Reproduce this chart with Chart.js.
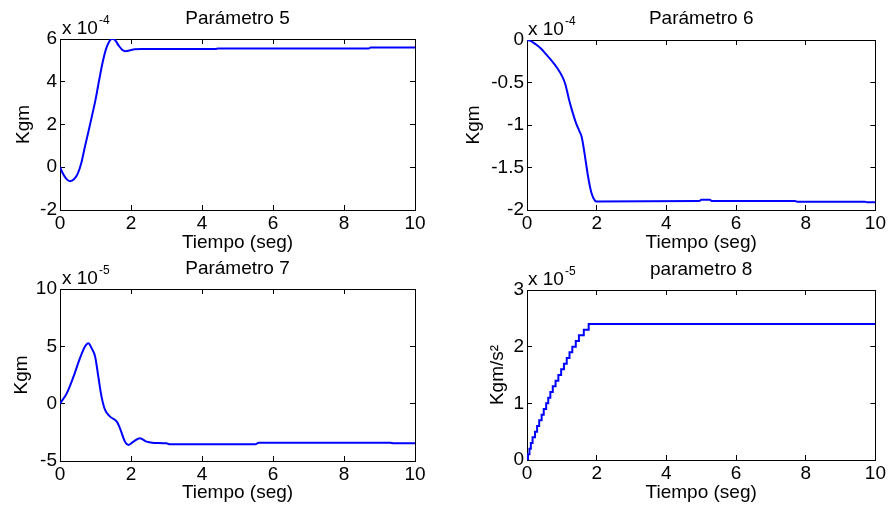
<!DOCTYPE html>
<html>
<head>
<meta charset="utf-8">
<script src="https://cdn.jsdelivr.net/npm/chart.js@4.4.1/dist/chart.umd.min.js"></script>
<style>
  body { margin: 0; background: #fff; }
  #wrap { position: relative; width: 893px; height: 510px; background: #fff; }
  canvas { position: absolute; }
</style>
</head>
<body>
<div id="wrap">
  <canvas id="p5" width="446" height="255" style="left:0;top:0"></canvas>
  <canvas id="p6" width="447" height="255" style="left:446px;top:0"></canvas>
  <canvas id="p7" width="446" height="255" style="left:0;top:255px"></canvas>
  <canvas id="p8" width="447" height="255" style="left:446px;top:255px"></canvas>
</div>
<script>
// Eje de tiempo (seg), comun a los 4 graficos
const xTicks = [0, 2, 4, 6, 8, 10];

// Parametro 5 (x 10^-4)
const t5 = [0, 0.1, 0.2, 0.28, 0.4, 0.5, 0.6, 0.7, 0.8, 0.9, 1.0, 1.1, 1.2, 1.3, 1.4, 1.46, 1.55, 1.65, 1.75, 1.85, 1.95, 2.1, 2.3, 4.4, 4.45, 8.7, 8.75, 10];
const p5 = [0, -0.35, -0.58, -0.65, -0.55, -0.3, 0.2, 0.95, 1.66, 2.4, 3.15, 4.05, 4.9, 5.55, 5.92, 6.02, 5.95, 5.7, 5.5, 5.43, 5.46, 5.52, 5.53, 5.53, 5.56, 5.56, 5.6, 5.6];
const yTicks5 = [-2, 0, 2, 4, 6];

// Parametro 6 (x 10^-4)
const t6 = [0, 0.1, 0.25, 0.4, 0.55, 0.7, 0.85, 1.0, 1.1, 1.2, 1.3, 1.4, 1.5, 1.57, 1.65, 1.75, 1.85, 1.95, 2.0, 4.95, 5.0, 5.25, 5.3, 7.7, 7.75, 9.7, 9.75, 10];
const p6 = [0, -0.01, -0.05, -0.1, -0.17, -0.24, -0.32, -0.42, -0.52, -0.69, -0.84, -0.97, -1.07, -1.14, -1.33, -1.6, -1.8, -1.89, -1.9, -1.895, -1.88, -1.88, -1.895, -1.895, -1.902, -1.902, -1.91, -1.91];
const yTicks6 = [-2, -1.5, -1, -0.5, 0];

// Parametro 7 (x 10^-5)
const t7 = [0, 0.19, 0.38, 0.56, 0.7, 0.8, 0.89, 0.99, 1.08, 1.17, 1.27, 1.41, 1.6, 1.69, 1.83, 1.93, 2.07, 2.25, 2.44, 2.6, 3.0, 3.1, 5.5, 5.6, 9.3, 9.4, 10];
const p7 = [0, 0.9, 2.35, 3.95, 4.97, 5.26, 4.83, 4.1, 2.35, 0.61, -0.55, -1.13, -1.57, -2.15, -3.31, -3.6, -3.31, -3.02, -3.31, -3.4, -3.46, -3.55, -3.55, -3.4, -3.4, -3.46, -3.46];
const yTicks7 = [-5, 0, 5, 10];

// parametro 8 (x 10^-5), escalonado
const t8 = [0, 0.03, 0.07, 0.11, 0.16, 0.23, 0.29, 0.35, 0.42, 0.48, 0.55, 0.61, 0.67, 0.74, 0.82, 0.9, 0.98, 1.06, 1.14, 1.22, 1.3, 1.4, 1.49, 1.63, 1.77, 10];
const p8 = [0, 0.1, 0.2, 0.3, 0.4, 0.5, 0.6, 0.7, 0.8, 0.9, 1.0, 1.1, 1.2, 1.3, 1.4, 1.5, 1.6, 1.7, 1.8, 1.9, 2.0, 2.1, 2.2, 2.3, 2.4, 2.4];
const yTicks8 = [0, 1, 2, 3];

const FONT = '"Liberation Sans", Arial, Helvetica, sans-serif';
Chart.defaults.font.family = FONT;
Chart.defaults.font.size = 19;
Chart.defaults.color = '#000';

// etiqueta "x 10^n" arriba a la izquierda, como en MATLAB
const exponentLabel = {
  id: 'exponentLabel',
  afterDraw(chart, args, opts) {
    const { ctx, chartArea } = chart;
    ctx.save();
    ctx.fillStyle = '#000';
    ctx.textBaseline = 'alphabetic';
    ctx.textAlign = 'left';
    ctx.font = '19px ' + FONT;
    const x0 = chartArea.left + opts.dx;
    ctx.fillText('x 10', x0, chartArea.top - 5);
    const w = ctx.measureText('x 10').width;
    ctx.font = '12px ' + FONT;
    ctx.fillText(opts.power, x0 + w + 1, chartArea.top - 15);
    ctx.restore();
  }
};

function fixedTicks(values) {
  return scale => { scale.ticks = values.map(v => ({ value: v })); };
}

function makePlot(id, cfg) {
  const canvas = document.getElementById(id);
  const H = canvas.height, W = canvas.width;
  const grid = { drawOnChartArea: false, tickLength: -5, color: '#000', lineWidth: 1 };
  const border = { display: true, color: '#000', width: 1 };
  const yMin = cfg.yTicks[0], yMax = cfg.yTicks[cfg.yTicks.length - 1];

  new Chart(canvas, {
    type: 'line',
    data: {
      datasets: [{
        data: cfg.t.map((x, i) => ({ x: x, y: cfg.v[i] })),
        borderColor: '#0000ff',
        borderWidth: 2,
        pointRadius: 0,
        fill: false,
        stepped: cfg.stepped || false,
        cubicInterpolationMode: cfg.stepped ? 'default' : 'monotone',
      }],
    },
    options: {
      responsive: false,
      animation: false,
      events: [],
      layout: { padding: { left: 0, top: 0, bottom: 0, right: W - cfg.box.right } },
      plugins: {
        legend: { display: false },
        tooltip: { enabled: false },
        title: {
          display: true,
          text: cfg.title,
          fullSize: false,
          font: { size: 19, weight: 'normal' },
          color: '#000',
          padding: { top: cfg.titlePad, bottom: cfg.box.top - cfg.titlePad - 22.8 },
        },
        exponentLabel: { power: cfg.power, dx: cfg.expDx },
      },
      scales: {
        x: {
          type: 'linear', position: 'bottom', min: 0, max: 10,
          afterBuildTicks: fixedTicks(xTicks),
          afterFit: s => { s.height = H - cfg.box.bottom; },
          ticks: { padding: 7, maxRotation: 0, autoSkip: false, callback: v => String(v) },
          grid: grid, border: border,
          title: { display: true, text: 'Tiempo (seg)', padding: { top: 0, bottom: cfg.xTitlePad } },
        },
        x2: {
          type: 'linear', position: 'top', min: 0, max: 10,
          afterBuildTicks: fixedTicks(xTicks),
          afterFit: s => { s.height = 0; },
          ticks: { display: false },
          grid: grid, border: border,
        },
        y: {
          type: 'linear', position: 'left', min: yMin, max: yMax,
          afterBuildTicks: fixedTicks(cfg.yTicks),
          afterFit: s => { s.width = cfg.box.left; },
          ticks: { padding: 8, autoSkip: false, callback: v => String(v) },
          grid: grid, border: border,
          title: { display: true, text: cfg.yLabel, padding: { top: cfg.yTitlePad, bottom: 0 } },
        },
        y2: {
          type: 'linear', position: 'right', min: yMin, max: yMax,
          afterBuildTicks: fixedTicks(cfg.yTicks),
          afterFit: s => { s.width = 0; },
          ticks: { display: false },
          grid: grid, border: border,
        },
      },
    },
    plugins: [exponentLabel],
  });
}

makePlot('p5', {
  title: 'Parámetro 5', yLabel: 'Kgm', power: '-4', t: t5, v: p5, yTicks: yTicks5,
  box: { left: 60, right: 415, top: 39, bottom: 210 },
  titlePad: 7, xTitlePad: 1.2, yTitlePad: 12.2, expDx: 2,
});

makePlot('p6', {
  title: 'Parámetro 6', yLabel: 'Kgm', power: '-4', t: t6, v: p6, yTicks: yTicks6,
  box: { left: 81, right: 436, top: 40, bottom: 210 },
  titlePad: 7, xTitlePad: 1.2, yTitlePad: 16.2, expDx: 1,
});

makePlot('p7', {
  title: 'Parámetro 7', yLabel: 'Kgm', power: '-5', t: t7, v: p7, yTicks: yTicks7,
  box: { left: 60, right: 415, top: 34, bottom: 206 },
  titlePad: 2, xTitlePad: 6.2, yTitlePad: 10.2, expDx: 2,
});

makePlot('p8', {
  title: 'parametro 8', yLabel: 'Kgm/s²', power: '-5', t: t8, v: p8, yTicks: yTicks8, stepped: true,
  box: { left: 81, right: 436, top: 35, bottom: 205 },
  titlePad: 3, xTitlePad: 6.2, yTitlePad: 40.2, expDx: 1,
});
</script>
</body>
</html>
